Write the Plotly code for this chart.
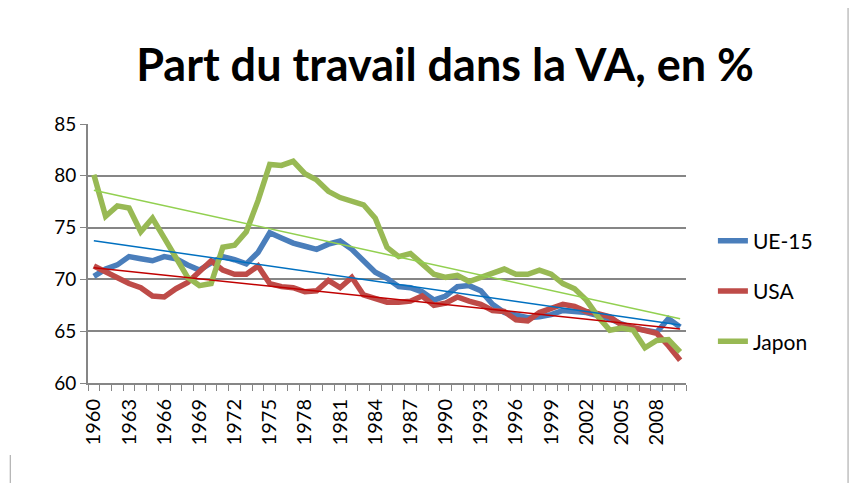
import numpy as np
import plotly.graph_objects as go

# Part du travail dans la valeur ajoutée (%), 1960-2010
years = list(range(1960, 2011))

ue15 = [70.3, 71.0, 71.4, 72.2, 72.0, 71.8, 72.2, 72.0, 71.4, 70.9,
        71.6, 72.2, 71.9, 71.5, 72.6, 74.5, 74.0, 73.5, 73.2, 72.9,
        73.4, 73.7, 72.9, 71.8, 70.7, 70.1, 69.3, 69.2, 68.8, 68.0,
        68.4, 69.3, 69.4, 68.9, 67.6, 66.8, 66.5, 66.3, 66.4, 66.6,
        67.0, 66.9, 66.8, 66.5, 66.2, 65.7, 65.3, 65.1, 64.9, 66.2,
        65.4]

usa = [71.3, 70.7, 70.1, 69.6, 69.2, 68.4, 68.3, 69.1, 69.7, 70.7,
       71.8, 70.9, 70.5, 70.5, 71.3, 69.6, 69.3, 69.2, 68.8, 68.9,
       69.9, 69.2, 70.2, 68.5, 68.1, 67.8, 67.8, 67.9, 68.4, 67.5,
       67.7, 68.3, 67.9, 67.6, 67.0, 66.9, 66.1, 66.0, 66.8, 67.2,
       67.6, 67.4, 66.9, 66.7, 66.4, 65.6, 65.3, 65.1, 64.8, 63.6,
       62.2]

japon = [80.1, 76.1, 77.1, 76.9, 74.6, 75.9, 74.0, 72.0, 70.2, 69.4,
         69.6, 73.1, 73.3, 74.6, 77.6, 81.1, 81.0, 81.4, 80.2, 79.6,
         78.5, 77.9, 77.6, 77.2, 75.9, 73.1, 72.2, 72.5, 71.5, 70.5,
         70.2, 70.4, 69.8, 70.2, 70.6, 71.0, 70.5, 70.5, 70.9, 70.5,
         69.6, 69.1, 68.0, 66.4, 65.1, 65.3, 65.1, 63.4, 64.1, 64.2,
         63.0]

year_labels = list(range(1960, 2011, 3))

SERIES = [
    ("UE-15", ue15, "#4A7EBB", "#0070C0"),
    ("USA", usa, "#BE4B48", "#C00000"),
    ("Japon", japon, "#98B954", "#92D050"),
]

GRID = "#868686"
FONT = "Lato, Carlito, sans-serif"

fig = go.Figure()

for name, values, color, _ in SERIES:
    fig.add_trace(
        go.Scatter(
            x=years,
            y=values,
            mode="lines",
            name=name,
            legendgroup=name,
            line=dict(color=color, width=5.5),
        )
    )

# linear trend lines (as in the Excel chart), drawn on top
x_arr = np.array(years, dtype=float)
for name, values, _, trend_color in SERIES:
    slope, intercept = np.polyfit(x_arr, np.array(values), 1)
    fig.add_trace(
        go.Scatter(
            x=[years[0], years[-1]],
            y=[slope * years[0] + intercept, slope * years[-1] + intercept],
            mode="lines",
            line=dict(color=trend_color, width=1.5),
            showlegend=False,
            hoverinfo="skip",
        )
    )

# the page body adds an 8px offset, margins below account for it
fig.update_layout(
    width=862,
    height=483,
    margin=dict(l=80, r=184, t=116, b=108),
    paper_bgcolor="white",
    plot_bgcolor="white",
    font=dict(family=FONT, color="black"),
    title=dict(
        text="<b>Part du travail dans la VA, en %</b>",
        font=dict(family=FONT, size=45, color="black"),
        x=0.507,
        xanchor="center",
        y=0.882,
        yanchor="middle",
    ),
    legend=dict(
        x=1.045,
        xanchor="left",
        y=0.355,
        yanchor="middle",
        font=dict(family=FONT, size=21),
        tracegroupgap=20,
        bgcolor="rgba(0,0,0,0)",
    ),
    xaxis=dict(
        range=[1959.5, 2010.5],
        tickvals=year_labels,
        ticktext=[str(y) for y in year_labels],
        tickangle=-90,
        ticks="",
        tickfont=dict(size=20),
        ticklabelstandoff=6,
        showgrid=False,
        zeroline=False,
        showline=True,
        linecolor=GRID,
        linewidth=2,
        minor=dict(
            tickvals=[y - 0.5 for y in years] + [years[-1] + 0.5],
            ticks="outside",
            ticklen=6,
            tickcolor=GRID,
            tickwidth=1,
            showgrid=False,
        ),
    ),
    yaxis=dict(
        range=[60, 85],
        dtick=5,
        tickfont=dict(size=19),
        ticks="outside",
        ticklen=6,
        tickcolor=GRID,
        showgrid=True,
        gridcolor=GRID,
        gridwidth=1.5,
        zeroline=False,
        showline=True,
        linecolor=GRID,
        linewidth=2,
    ),
)

# chart-area borders peeking in at the edges
fig.add_shape(type="line", xref="paper", yref="paper",
              x0=1.271, x1=1.271, y0=-0.386, y1=1.479,
              line=dict(color="#A0A0A0", width=1))
fig.add_shape(type="line", xref="paper", yref="paper",
              x0=-0.130, x1=-0.130, y0=-0.386, y1=-0.278,
              line=dict(color="#A0A0A0", width=1))

fig.write_html("out.html")
